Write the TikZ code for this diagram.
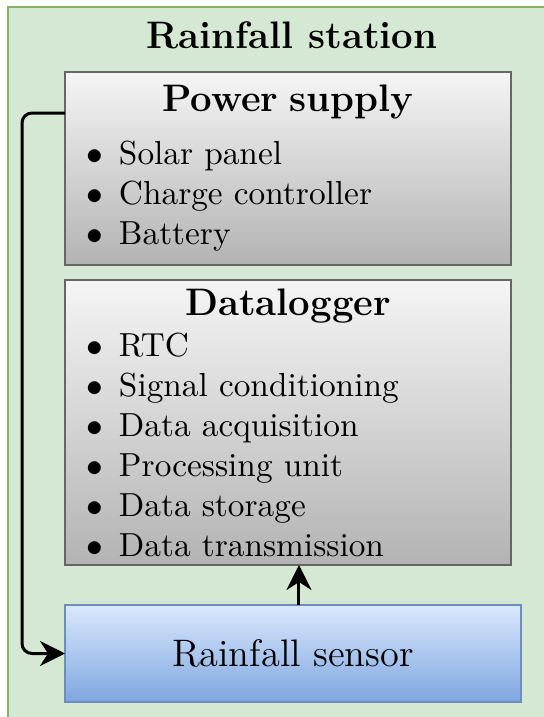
\documentclass[tikz,border=0pt]{standalone}
\usepackage{enumitem}
\usetikzlibrary{positioning,arrows.meta}
\definecolor{stfill}{HTML}{D5E8D4}
\definecolor{stline}{HTML}{82B366}
\definecolor{gtop}{HTML}{F5F5F5}
\definecolor{gbot}{HTML}{B3B3B3}
\definecolor{gline}{HTML}{666666}
\definecolor{btop}{HTML}{DAE8FC}
\definecolor{bbot}{HTML}{7EA6E0}
\definecolor{bline}{HTML}{6C8EBF}
\newcommand{\itemlist}[1]{\begin{itemize}[nosep,label=$\bullet$,leftmargin=16.2pt,labelsep=4.8pt]#1\end{itemize}}
\newcommand{\bigtxt}{\fontsize{11.5pt}{13.5pt}\selectfont}
\tikzset{
  stbox/.style={draw=stline, fill=stfill, line width=0.75pt},
  gb/.style={rectangle, draw=gline, top color=gtop, bottom color=gbot, line width=0.6pt, outer sep=0pt, inner ysep=0pt, minimum width=133.8pt, text width=133.8pt, inner xsep=0pt, align=left},
  sn/.style={rectangle, draw=bline, top color=btop, bottom color=bbot, line width=0.6pt, outer sep=0pt, minimum width=136.8pt, minimum height=29.1pt, text centered, font=\bigtxt},
  conn/.style={-{Stealth[length=7.5pt,width=7.5pt,inset=2.4pt]}, line width=0.9pt},
  node distance=4.5pt
}
\begin{document}
\begin{tikzpicture}[x=0.3pt, y=-0.3pt]
	\useasboundingbox (0,0) rectangle (544,717);
	\clip (0,0) rectangle (544,717);
	\draw[stbox] (8,7) rectangle (560,730);
	\node[font=\bigtxt\bfseries] (title) at (292,35) {Rainfall station};
	\node[gb, minimum height=57.9pt, anchor=north west] (power) at (65,72) {%
		{\centering\bigtxt\bfseries Power supply\par}\vspace{3.9pt}
		\itemlist{\item Solar panel \item Charge controller \item Battery}};
	\node[gb, minimum height=85.5pt, below=of power] (dl) {%
		{\centering\bigtxt\bfseries Datalogger\par}\vspace{0.3pt}
		\itemlist{\item RTC \item Signal conditioning \item Data acquisition
			\item Processing unit \item Data storage \item Data transmission}};
	\node[sn, below=12pt of dl.south west, anchor=north west] (sensor) {Rainfall sensor};
	% links
	\draw[conn] ([xshift=1.8pt]sensor.north) -- ([xshift=1.8pt]sensor.north |- dl.south);
	\draw[conn, rounded corners=3pt] ([yshift=-12.3pt]power.north west) -- ++(-12.9pt,0) |- (sensor.west);
\end{tikzpicture}
\end{document}
